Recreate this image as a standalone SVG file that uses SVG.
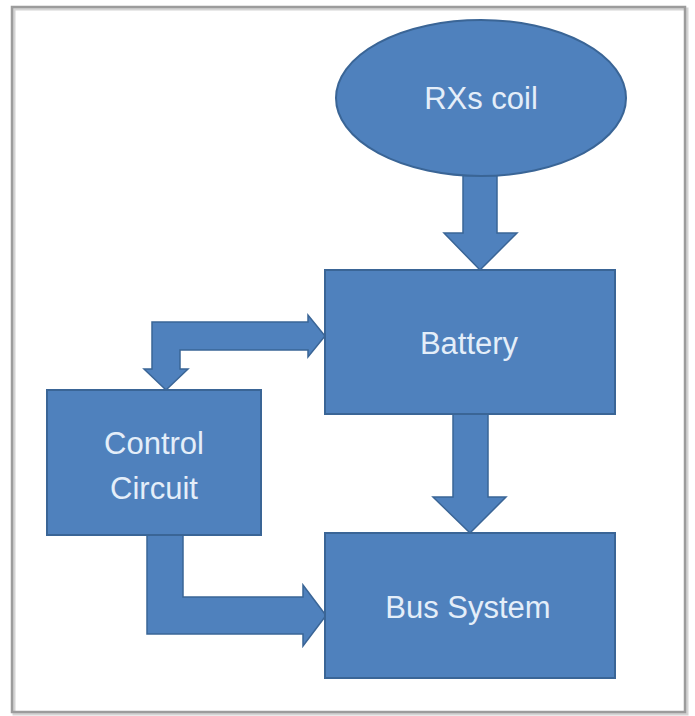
<svg xmlns="http://www.w3.org/2000/svg" width="695" height="716" viewBox="0 0 695 716">
<style>
.shape{fill:#4f81bd;stroke:#3a6596;stroke-width:2}
.arrow{fill:#4f81bd;stroke:#3a6596;stroke-width:1.5;stroke-linejoin:miter}
.label{font-family:"Liberation Sans","Open Sans",sans-serif;font-size:31px;fill:#e4eef9;text-anchor:middle}
</style>
<rect x="0" y="0" width="695" height="716" fill="#ffffff"/>
<rect id="frame-shadow" x="14" y="9" width="673" height="705" fill="none" stroke="#d4d4d4" stroke-width="3"/>
<rect id="frame" x="12" y="7" width="673" height="705" fill="none" stroke="#9c9c9c" stroke-width="2.5"/>
<g id="connectors">
  <polygon class="arrow" points="463,165 497,165 497,233 517,233 480,270 444,233 463,233"/>
  <polygon class="arrow" points="453,414 488,414 488,497 506,497 470,533 433,497 453,497"/>
  <polygon class="arrow" points="166,390 188,369 180,369 180,350 308,350 308,357 325,336 308,315 308,322 152,322 152,369 144,369"/>
  <polygon class="arrow" points="147,535 183,535 183,597 303,597 303,585 326,615.5 303,646 303,634 147,634"/>
</g>
<g id="rxs-coil">
  <ellipse class="shape" cx="481" cy="98" rx="145" ry="78"/>
  <text class="label" x="481" y="109">RXs coil</text>
</g>
<g id="battery">
  <rect class="shape" x="325" y="270" width="290" height="144"/>
  <text class="label" x="469" y="354">Battery</text>
</g>
<g id="control-circuit">
  <rect class="shape" x="47" y="390" width="214" height="145"/>
  <text class="label" x="154" y="454">Control</text>
  <text class="label" x="154" y="499">Circuit</text>
</g>
<g id="bus-system">
  <rect class="shape" x="325" y="533" width="290" height="145"/>
  <text class="label" x="468" y="618">Bus System</text>
</g>
</svg>
